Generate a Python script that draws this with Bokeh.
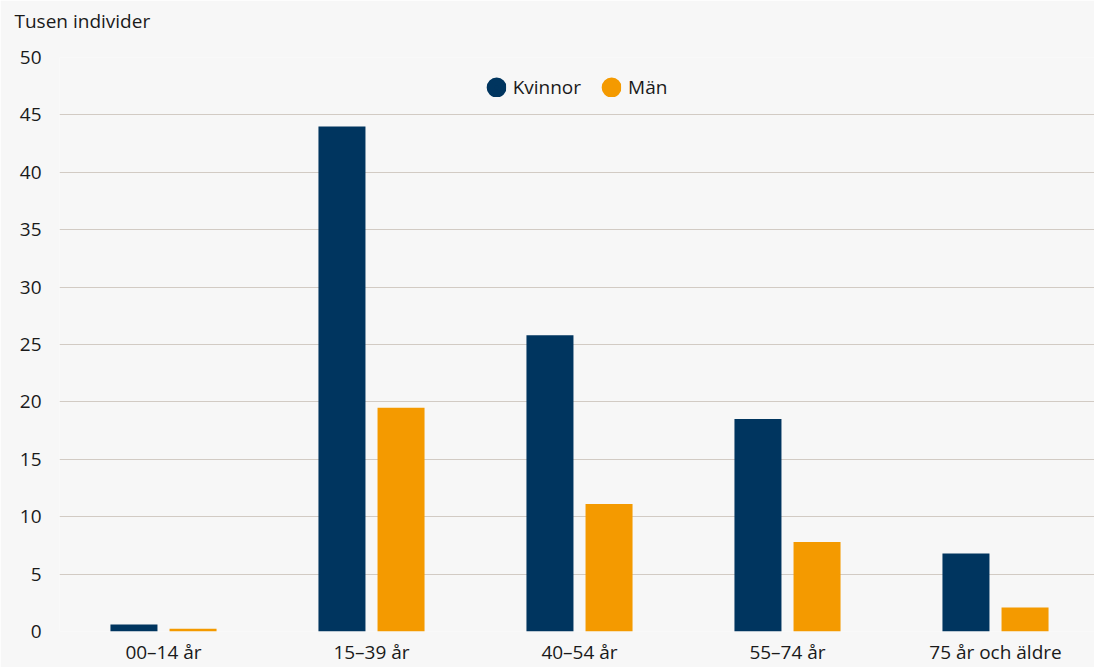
from bokeh.plotting import figure
from bokeh.models import ColumnDataSource, Range1d, FixedTicker, Legend, LegendItem, Title
from bokeh.transform import dodge
from bokeh.embed import file_html
from bokeh.resources import INLINE

categories = ["00–14 år", "15–39 år", "40–54 år", "55–74 år", "75 år och äldre"]
kvinnor = [0.6, 44.0, 25.8, 18.5, 6.8]
man = [0.25, 19.5, 11.1, 7.8, 2.1]
y_ticks = [0, 5, 10, 15, 20, 25, 30, 35, 40, 45, 50]

BG = "#f7f7f7"
DARK = "#00355f"
ORANGE = "#f49a00"
GRID = "#d2cbc4"
FONT = "Open Sans"
TXT = "#1a1a1a"

xs = [i + 0.5 for i in range(len(categories))]
src = ColumnDataSource(dict(x=xs, k=kvinnor, m=man))

p = figure(width=1094, height=667, output_backend="svg", toolbar_location=None,
           x_range=Range1d(0, 5 * 1035 / 1040), y_range=Range1d(0, 50),
           min_border_left=59, min_border_right=0, min_border_top=57, min_border_bottom=36,
           background_fill_color=BG, border_fill_color=BG, outline_line_color=None)

p.vbar(x=dodge("x", -0.142), top="k", width=0.226, source=src, fill_color=DARK, line_color=None)
p.vbar(x=dodge("x", 0.142), top="m", width=0.226, source=src, fill_color=ORANGE, line_color=None)

nan = float("nan")
dummy = ColumnDataSource(dict(x=[nan], y=[nan]))
r1 = p.scatter("x", "y", source=dummy, size=8, marker="circle", fill_color=DARK, line_color=DARK, line_width=12)
r2 = p.scatter("x", "y", source=dummy, size=8, marker="circle", fill_color=ORANGE, line_color=ORANGE, line_width=12)
legend = Legend(items=[LegendItem(label="Kvinnor", renderers=[r1]), LegendItem(label="Män", renderers=[r2])],
                location="top_center", orientation="horizontal",
                background_fill_alpha=0, border_line_color=None,
                label_text_font=FONT, label_text_font_size="19px", label_text_color=TXT,
                glyph_width=20, glyph_height=20, label_standoff=7, spacing=20, margin=17, padding=10)
p.add_layout(legend, "center")

p.xaxis.ticker = FixedTicker(ticks=xs)
p.xaxis.major_label_overrides = {x: c for x, c in zip(xs, categories)}
p.yaxis.ticker = FixedTicker(ticks=y_ticks)
for ax in (p.xaxis, p.yaxis):
    ax.axis_line_color = None
    ax.major_tick_line_color = None
    ax.minor_tick_line_color = None
    ax.major_label_text_font = FONT
    ax.major_label_text_font_size = "19px"
    ax.major_label_text_color = TXT
p.xaxis.major_label_standoff = 1
p.yaxis.major_label_standoff = 12

p.xgrid.grid_line_color = None
p.ygrid.grid_line_color = GRID
p.ygrid.grid_line_width = 1
p.ygrid.ticker = FixedTicker(ticks=y_ticks)

# spacer between the frame and the title
spacer = Title(text=" ", text_font_size="1px", standoff=20, text_color=BG)
p.add_layout(spacer, "above")

p.title.text = "Tusen individer"
p.title.text_font = FONT
p.title.text_font_size = "19px"
p.title.text_font_style = "normal"
p.title.text_color = TXT
p.title.align = "left"
p.title.vertical_align = "middle"
p.title.offset = -45
p.title.standoff = 0

open("out.html", "w").write(file_html(p, INLINE))
